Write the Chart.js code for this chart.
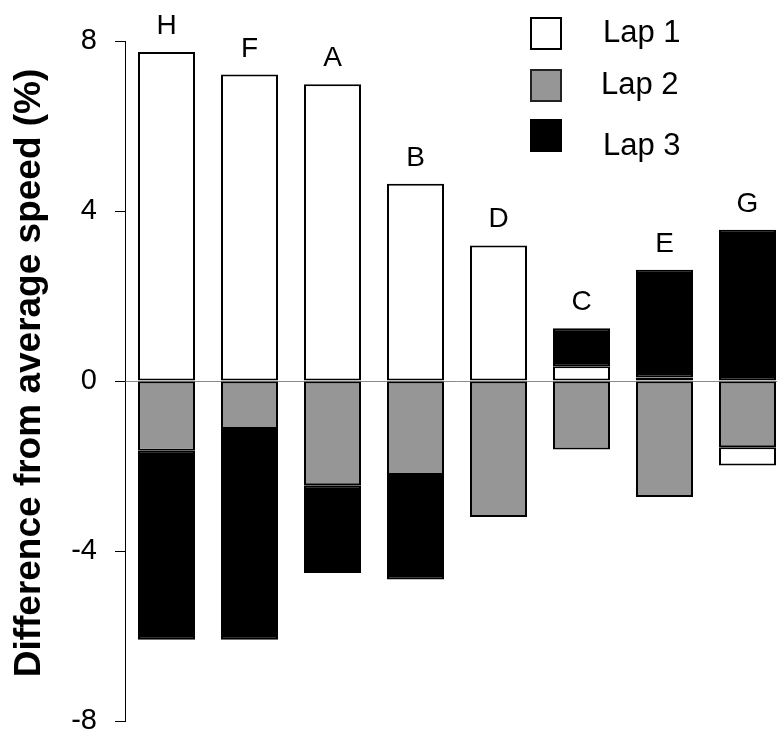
<!DOCTYPE html>
<html>
<head>
<meta charset="utf-8">
<script src="https://cdn.jsdelivr.net/npm/chart.js@4.4.0/dist/chart.umd.min.js"></script>
<style>
  html, body { margin: 0; padding: 0; overflow: hidden; background: #fff; width: 777px; height: 735px; }
  #wrap { position: relative; width: 790px; height: 735px; }
  canvas { display: block; }
  .lg { position: absolute; font-family: "Liberation Sans", Arial, sans-serif; font-size: 31px; line-height: 31px; color: #000; white-space: nowrap; }
  .sw { position: absolute; box-sizing: border-box; width: 32px; height: 33px; border: 2px solid #000; }
</style>
</head>
<body>
<div id="wrap">
  <canvas id="c" width="790" height="735"></canvas>
  <div class="sw" style="left:530px; top:17px; background:#ffffff;"></div>
  <div class="lg" style="left:603px; top:16px;">Lap 1</div>
  <div class="sw" style="left:530px; top:69px; background:#969696; border-color:#222;"></div>
  <div class="lg" style="left:601px; top:68px;">Lap 2</div>
  <div class="sw" style="left:530px; top:119px; background:#000000;"></div>
  <div class="lg" style="left:603px; top:129px;">Lap 3</div>
</div>
<script>
// ---- data ----
const categories = ['H', 'F', 'A', 'B', 'D', 'C', 'E', 'G'];
const lap1 = [7.74, 7.21, 6.98, 4.64, 3.19, 0.35, 0.08, -0.43];
const lap2 = [-1.64, -1.13, -2.45, -2.21, -3.20, -1.61, -2.73, -1.56];
const lap3 = [-4.45, -4.96, -2.07, -2.46, null, 0.89, 2.54, 3.56];
const yTicks = [-8, -4, 0, 4, 8];
const yTitle = 'Difference from average speed (%)';

const FONT = '"Liberation Sans", Arial, sans-serif';

const categoryLabels = {
  id: 'categoryLabels',
  afterDatasetsDraw(chart) {
    const ctx = chart.ctx;
    const xs = chart.scales.x;
    ctx.save();
    ctx.font = '28px ' + FONT;
    ctx.fillStyle = '#000';
    ctx.textAlign = 'center';
    ctx.textBaseline = 'alphabetic';
    categories.forEach((cat, i) => {
      let top = Infinity;
      chart.data.datasets.forEach((ds, di) => {
        const v = ds.data[i];
        if (v === null || v === undefined) return;
        const el = chart.getDatasetMeta(di).data[i];
        top = Math.min(top, el.y, el.base);
      });
      ctx.fillText(cat, xs.getPixelForValue(i), top - 18);
    });
    ctx.restore();
  }
};

const axisTitle = {
  id: 'axisTitle',
  afterDraw(chart) {
    const ctx = chart.ctx;
    const a = chart.chartArea;
    ctx.save();
    ctx.font = 'bold 37px ' + FONT;
    ctx.fillStyle = '#000';
    ctx.textAlign = 'center';
    ctx.textBaseline = 'alphabetic';
    ctx.translate(40, (a.top + a.bottom) / 2 - 8);
    ctx.rotate(-Math.PI / 2);
    ctx.fillText(yTitle, 0, 0);
    ctx.restore();
  }
};

new Chart(document.getElementById('c'), {
  type: 'bar',
  data: {
    labels: categories,
    datasets: [
      { label: 'Lap 1', data: lap1, backgroundColor: '#ffffff', order: 1 },
      { label: 'Lap 2', data: lap2, backgroundColor: '#969696', order: 0 },
      { label: 'Lap 3', data: lap3, backgroundColor: '#000000', order: 2 }
    ]
  },
  options: {
    responsive: false,
    animation: false,
    devicePixelRatio: 1,
    layout: { padding: { left: 0, right: 1, top: 41, bottom: 14 } },
    datasets: {
      bar: {
        borderColor: '#000',
        borderWidth: 2,
        borderSkipped: false,
        categoryPercentage: 1,
        barPercentage: 0.687
      }
    },
    plugins: {
      legend: { display: false },
      tooltip: { enabled: false }
    },
    scales: {
      x: {
        type: 'category',
        stacked: true,
        display: false,
        grid: { display: false }
      },
      y: {
        stacked: true,
        min: -8,
        max: 8,
        afterBuildTicks(scale) { scale.ticks = yTicks.map(v => ({ value: v })); },
        afterFit(scale) { scale.width = 125; scale.paddingTop = 0; scale.paddingBottom = 0; },
        ticks: {
          font: { family: FONT, size: 29, lineHeight: 1 },
          color: '#000',
          padding: 18
        },
        grid: {
          color: (c) => (c.tick && c.tick.value === 0) ? '#8a8a8a' : 'rgba(0,0,0,0)',
          tickColor: '#000',
          tickLength: 10,
          lineWidth: 1
        },
        border: { display: true, color: '#000', width: 1 },
        title: { display: false, text: yTitle }
      }
    }
  },
  plugins: [categoryLabels, axisTitle]
});
</script>
</body>
</html>
